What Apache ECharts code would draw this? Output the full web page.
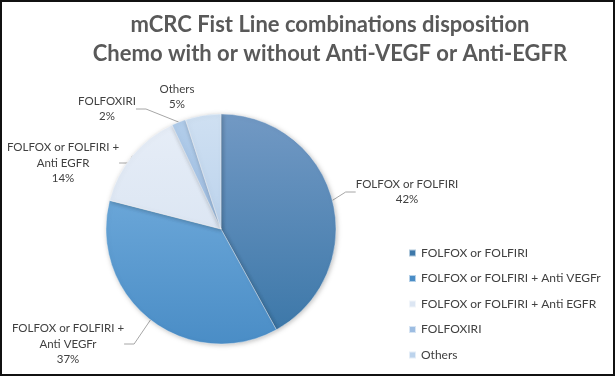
<!DOCTYPE html>
<html>
<head>
<meta charset="utf-8">
<script src="https://cdn.jsdelivr.net/npm/echarts@6/dist/echarts.min.js"></script>
<style>
  html, body { margin: 0; padding: 0; background: #fff; }
  #chart { width: 615px; height: 376px; box-sizing: border-box; border: 2px solid #111; }
</style>
</head>
<body>
<div id="chart"></div>
<script>
var categories = ['FOLFOX or FOLFIRI', 'FOLFOX or FOLFIRI + Anti VEGFr', 'FOLFOX or FOLFIRI + Anti EGFR', 'FOLFOXIRI', 'Others']
var labelTexts = ['FOLFOX or FOLFIRI', 'FOLFOX or FOLFIRI +\nAnti VEGFr', 'FOLFOX or FOLFIRI +\nAnti EGFR', 'FOLFOXIRI', 'Others']
var values = [42, 37, 14, 2, 5]

// slice colours (top, bottom of gradient)
var sliceColors = [
  ['#7299c4', '#3d78a9'],
  ['#6aa6d8', '#4a8dc6'],
  ['#e6edf7', '#dce6f3'],
  ['#b2cdea', '#9dbde2'],
  ['#cfe0f2', '#bcd3ec'],
]
// where the labels sit (Excel puts them by hand)
var labelPos = [[405, 190], [66, 342], [61, 161], [105, 107], [175, 95]]

var chart = echarts.init(document.getElementById('chart'))

var data = values.map(function (v, i) {
  var item = {
    value: v,
    name: categories[i],
    itemStyle: {
      color: new echarts.graphic.LinearGradient(0, 0, 0, 1, [
        { offset: 0, color: sliceColors[i][0] },
        { offset: 1, color: sliceColors[i][1] },
      ]),
    },
  }
  if (i === 4) item.labelLine = { show: false }
  return item
})

var option = {
  animation: false,
  title: {
    text: 'mCRC Fist Line combinations disposition\nChemo with or without Anti-VEGF or Anti-EGFR',
    left: 323,
    textAlign: 'center',
    top: 3,
    textStyle: {
      fontFamily: 'Lato',
      fontSize: 22,
      fontWeight: 'bold',
      color: '#595959',
      lineHeight: 29,
      align: 'center',
    },
  },
  legend: {
    orient: 'vertical',
    left: 401,
    top: 239,
    itemWidth: 7,
    itemHeight: 7,
    itemGap: 11.5,
    icon: 'rect',
    data: categories.map(function (c, i) {
      return { name: c, itemStyle: { color: sliceColors[i][1] } }
    }),
    textStyle: { fontFamily: 'Lato', fontSize: 12, color: '#404040', lineHeight: 14 },
  },
  series: [
    {
      type: 'pie',
      radius: 115,
      center: [219, 227],
      startAngle: 90,
      clockwise: true,
      data: data,
      itemStyle: {
        borderColor: 'rgba(255,255,255,0.6)',
        borderWidth: 0.6,
        shadowBlur: 5,
        shadowColor: 'rgba(0,0,0,0.25)',
        shadowOffsetX: 1,
        shadowOffsetY: 1,
      },
      label: {
        show: true,
        position: 'outside',
        fontFamily: 'Lato',
        fontSize: 11.5,
        color: '#404040',
        lineHeight: 15.5,
        align: 'center',
        overflow: 'none',
        formatter: function (p) {
          return labelTexts[p.dataIndex] + '\n' + p.value + '%'
        },
      },
      labelLine: {
        show: true,
        length: 10,
        length2: 10,
        lineStyle: { color: '#a6a6a6', width: 1 },
      },
      labelLayout: function (params) {
        var pos = labelPos[params.dataIndex]
        return { x: pos[0], y: pos[1], align: 'center', verticalAlign: 'middle' }
      },
      emphasis: { disabled: true },
    },
  ],
}
chart.setOption(option)
</script>
</body>
</html>
